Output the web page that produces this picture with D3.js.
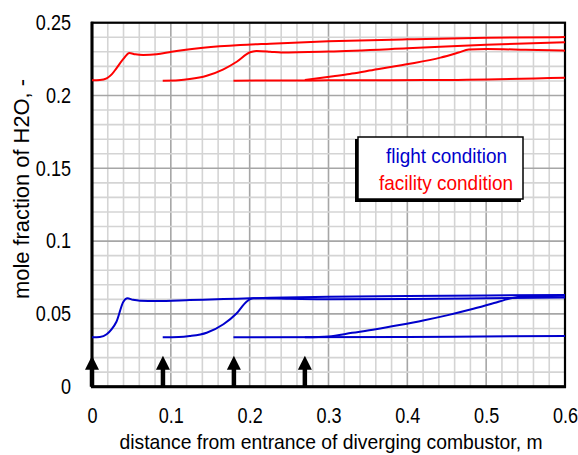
<!DOCTYPE html>
<html>
<head>
<meta charset="utf-8">
<script src="https://cdn.jsdelivr.net/npm/d3@7"></script>
<style>
  body { margin: 0; background: #fff; }
  text { font-family: "Liberation Sans", Arial, sans-serif; }
</style>
</head>
<body>
<svg id="chart" width="578" height="455"></svg>
<script>
// Axis ticks and labels
const xTicks = [0, 0.1, 0.2, 0.3, 0.4, 0.5, 0.6];
const xTickLabels = ["0", "0.1", "0.2", "0.3", "0.4", "0.5", "0.6"];
const yTicks = [0, 0.05, 0.1, 0.15, 0.2, 0.25];
const yTickLabels = ["0", "0.05", "0.1", "0.15", "0.2", "0.25"];

// Injection locations (arrows on the x axis), m
const injectionPositions = [0, 0.09, 0.18, 0.27];

// H2O mole fraction, facility condition: [distance m, mole fraction]
const facility1 = [[0,0.2104],[0.01,0.2106],[0.0186,0.2118],[0.025,0.2145],[0.031,0.2187],[0.0398,0.2251],[0.0474,0.2292],[0.055,0.2283],[0.065,0.2279],[0.082,0.2283],[0.101,0.2301],[0.141,0.2328],[0.188,0.2347],[0.226,0.2356],[0.3,0.2372],[0.4,0.2386],[0.5,0.2397],[0.6,0.2401]];
const facility2 = [[0.0897,0.2102],[0.11,0.2105],[0.124,0.2113],[0.1455,0.2136],[0.1667,0.218],[0.1836,0.2232],[0.2005,0.2297],[0.209,0.2306],[0.226,0.2301],[0.24,0.2295],[0.3,0.2302],[0.4,0.2324],[0.5,0.2349],[0.6,0.2365]];
const facility3 = [[0.1794,0.2102],[0.3,0.2104],[0.433,0.2106],[0.6,0.2122]];
const facility4 = [[0.27,0.2106],[0.306,0.2132],[0.327,0.2148],[0.349,0.2168],[0.399,0.2214],[0.442,0.226],[0.465,0.2295],[0.478,0.2316],[0.501,0.2319],[0.55,0.2314],[0.6,0.2308]];

// H2O mole fraction, flight condition
const flight1 = [[0,0.0339],[0.01,0.0342],[0.0186,0.036],[0.025,0.0395],[0.031,0.0446],[0.0398,0.0584],[0.0449,0.0607],[0.052,0.0597],[0.0609,0.0591],[0.082,0.0589],[0.124,0.0595],[0.1667,0.0602],[0.2005,0.0607],[0.226,0.0611],[0.3,0.0618],[0.4,0.0623],[0.5,0.0627],[0.6,0.063]];
const flight2 = [[0.0897,0.0339],[0.11,0.0341],[0.124,0.0348],[0.1455,0.0371],[0.1667,0.0429],[0.1836,0.0504],[0.196,0.0584],[0.2048,0.0607],[0.25,0.0604],[0.3,0.0601],[0.4,0.0602],[0.5,0.0607],[0.6,0.0613]];
const flight3 = [[0.1794,0.0339],[0.4,0.0342],[0.6,0.0348]];
const flight4 = [[0.27,0.0339],[0.3,0.0345],[0.33,0.037],[0.36,0.0395],[0.39,0.0424],[0.42,0.0455],[0.45,0.049],[0.48,0.053],[0.51,0.0575],[0.53,0.0605],[0.545,0.062],[0.6,0.0625]];

const legendLabels = ["flight condition", "facility condition"];
const BLUE = "#0000cc", RED = "#ff0000";
const NARROW = 0.84; // horizontal squeeze for the tick numerals

const svg = d3.select("#chart");
const plotLeft = 92, plotRight = 565, plotTop = 22.7, plotBottom = 386.7;

const x = d3.scaleLinear().domain([0, 0.6]).range([plotLeft, plotRight]);
const y = d3.scaleLinear().domain([0, 0.25]).range([plotBottom, plotTop]);

// text fitted to a given run length
function fittedText(parent, tx, ty, str, size, len, color, rotate) {
  return parent.append("text")
    .attr("transform", `translate(${tx},${ty})${rotate ? " rotate(" + rotate + ")" : ""}`)
    .attr("x", -len / 2).attr("textLength", len).attr("lengthAdjust", "spacingAndGlyphs")
    .attr("font-size", size).attr("fill", color || "#000").text(str);
}

// grid: light minor lines, darker major lines
const g = svg.append("g");
const minorX = d3.range(0, 31).map(i => i * 0.02);
const minorY = d3.range(0, 26).map(i => i * 0.01);
g.selectAll(".vx").data(minorX).join("line")
  .attr("x1", d => x(d)).attr("x2", d => x(d)).attr("y1", plotTop).attr("y2", plotBottom)
  .attr("stroke", (d, i) => i % 5 === 0 ? "#a6a6a6" : "#d4d4d4").attr("stroke-width", 1.6);
g.selectAll(".hy").data(minorY).join("line")
  .attr("y1", d => y(d)).attr("y2", d => y(d)).attr("x1", plotLeft).attr("x2", plotRight)
  .attr("stroke", (d, i) => i % 5 === 0 ? "#a6a6a6" : "#d4d4d4").attr("stroke-width", 1.6);

// frame
svg.append("rect").attr("x", plotLeft).attr("y", plotTop).attr("width", plotRight - plotLeft).attr("height", plotBottom - plotTop)
  .attr("fill", "none").attr("stroke", "#000").attr("stroke-width", 2.2);
svg.append("line").attr("x1", plotLeft - 1).attr("x2", plotRight + 1).attr("y1", plotBottom).attr("y2", plotBottom)
  .attr("stroke", "#000").attr("stroke-width", 3);
svg.append("line").attr("x1", plotLeft).attr("x2", plotLeft).attr("y1", plotTop - 1).attr("y2", plotBottom)
  .attr("stroke", "#000").attr("stroke-width", 3);

// axes: tick labels only, squeezed horizontally
const xAxis = d3.axisBottom(x).tickValues(xTicks).tickFormat((d, i) => xTickLabels[i]).tickSize(0);
const yAxis = d3.axisLeft(y).tickValues(yTicks).tickFormat((d, i) => yTickLabels[i]).tickSize(0);
const gx = svg.append("g").attr("transform", `translate(0,${plotBottom})`).call(xAxis);
const gy = svg.append("g").attr("transform", `translate(${plotLeft},0)`).call(yAxis);
gx.select(".domain").remove();
gy.select(".domain").remove();
gx.selectAll("text").attr("font-size", 21.5).attr("fill", "#000").attr("font-family", null)
  .attr("y", null).attr("dy", null).attr("text-anchor", "middle")
  .attr("transform", `translate(0,36.5) scale(${NARROW},1)`);
gy.selectAll("text").attr("font-size", 21.5).attr("fill", "#000").attr("font-family", null)
  .attr("x", null).attr("text-anchor", "end")
  .attr("transform", `translate(-21,0) scale(${NARROW},1)`);

// axis titles
fittedText(svg, 331, 449, "distance from entrance of diverging combustor, m", 21, 423);
fittedText(svg, 29, 189, "mole fraction of H2O, -", 21.5, 220, "#000", -90);

// curves
const line = d3.line().x(d => x(d[0])).y(d => y(d[1])).curve(d3.curveMonotoneX);
const series = [
  { data: facility1, color: RED }, { data: facility2, color: RED },
  { data: facility3, color: RED }, { data: facility4, color: RED },
  { data: flight1, color: BLUE }, { data: flight2, color: BLUE },
  { data: flight3, color: BLUE }, { data: flight4, color: BLUE }
];
svg.append("g").selectAll("path").data(series).join("path")
  .attr("d", d => line(d.data)).attr("fill", "none")
  .attr("stroke", d => d.color).attr("stroke-width", 2);

// injection arrows
const arrows = svg.append("g");
injectionPositions.forEach(p => {
  const px = x(p);
  arrows.append("line").attr("x1", px).attr("x2", px).attr("y1", plotBottom).attr("y2", plotBottom - 18)
    .attr("stroke", "#000").attr("stroke-width", 4.5);
  arrows.append("path")
    .attr("d", `M${px},${plotBottom - 31}L${px + 7},${plotBottom - 17}L${px - 7},${plotBottom - 17}Z`)
    .attr("fill", "#000");
});

// legend
const lg = svg.append("g");
lg.append("rect").attr("x", 355).attr("y", 139).attr("width", 166).attr("height", 63).attr("fill", "#000");
lg.append("rect").attr("x", 358).attr("y", 137).attr("width", 165).attr("height", 62)
  .attr("fill", "#fff").attr("stroke", "#000").attr("stroke-width", 1.5);
fittedText(lg, 446.5, 163, legendLabels[0], 21, 121, BLUE);
fittedText(lg, 446, 190, legendLabels[1], 21, 134, RED);
</script>
</body>
</html>
